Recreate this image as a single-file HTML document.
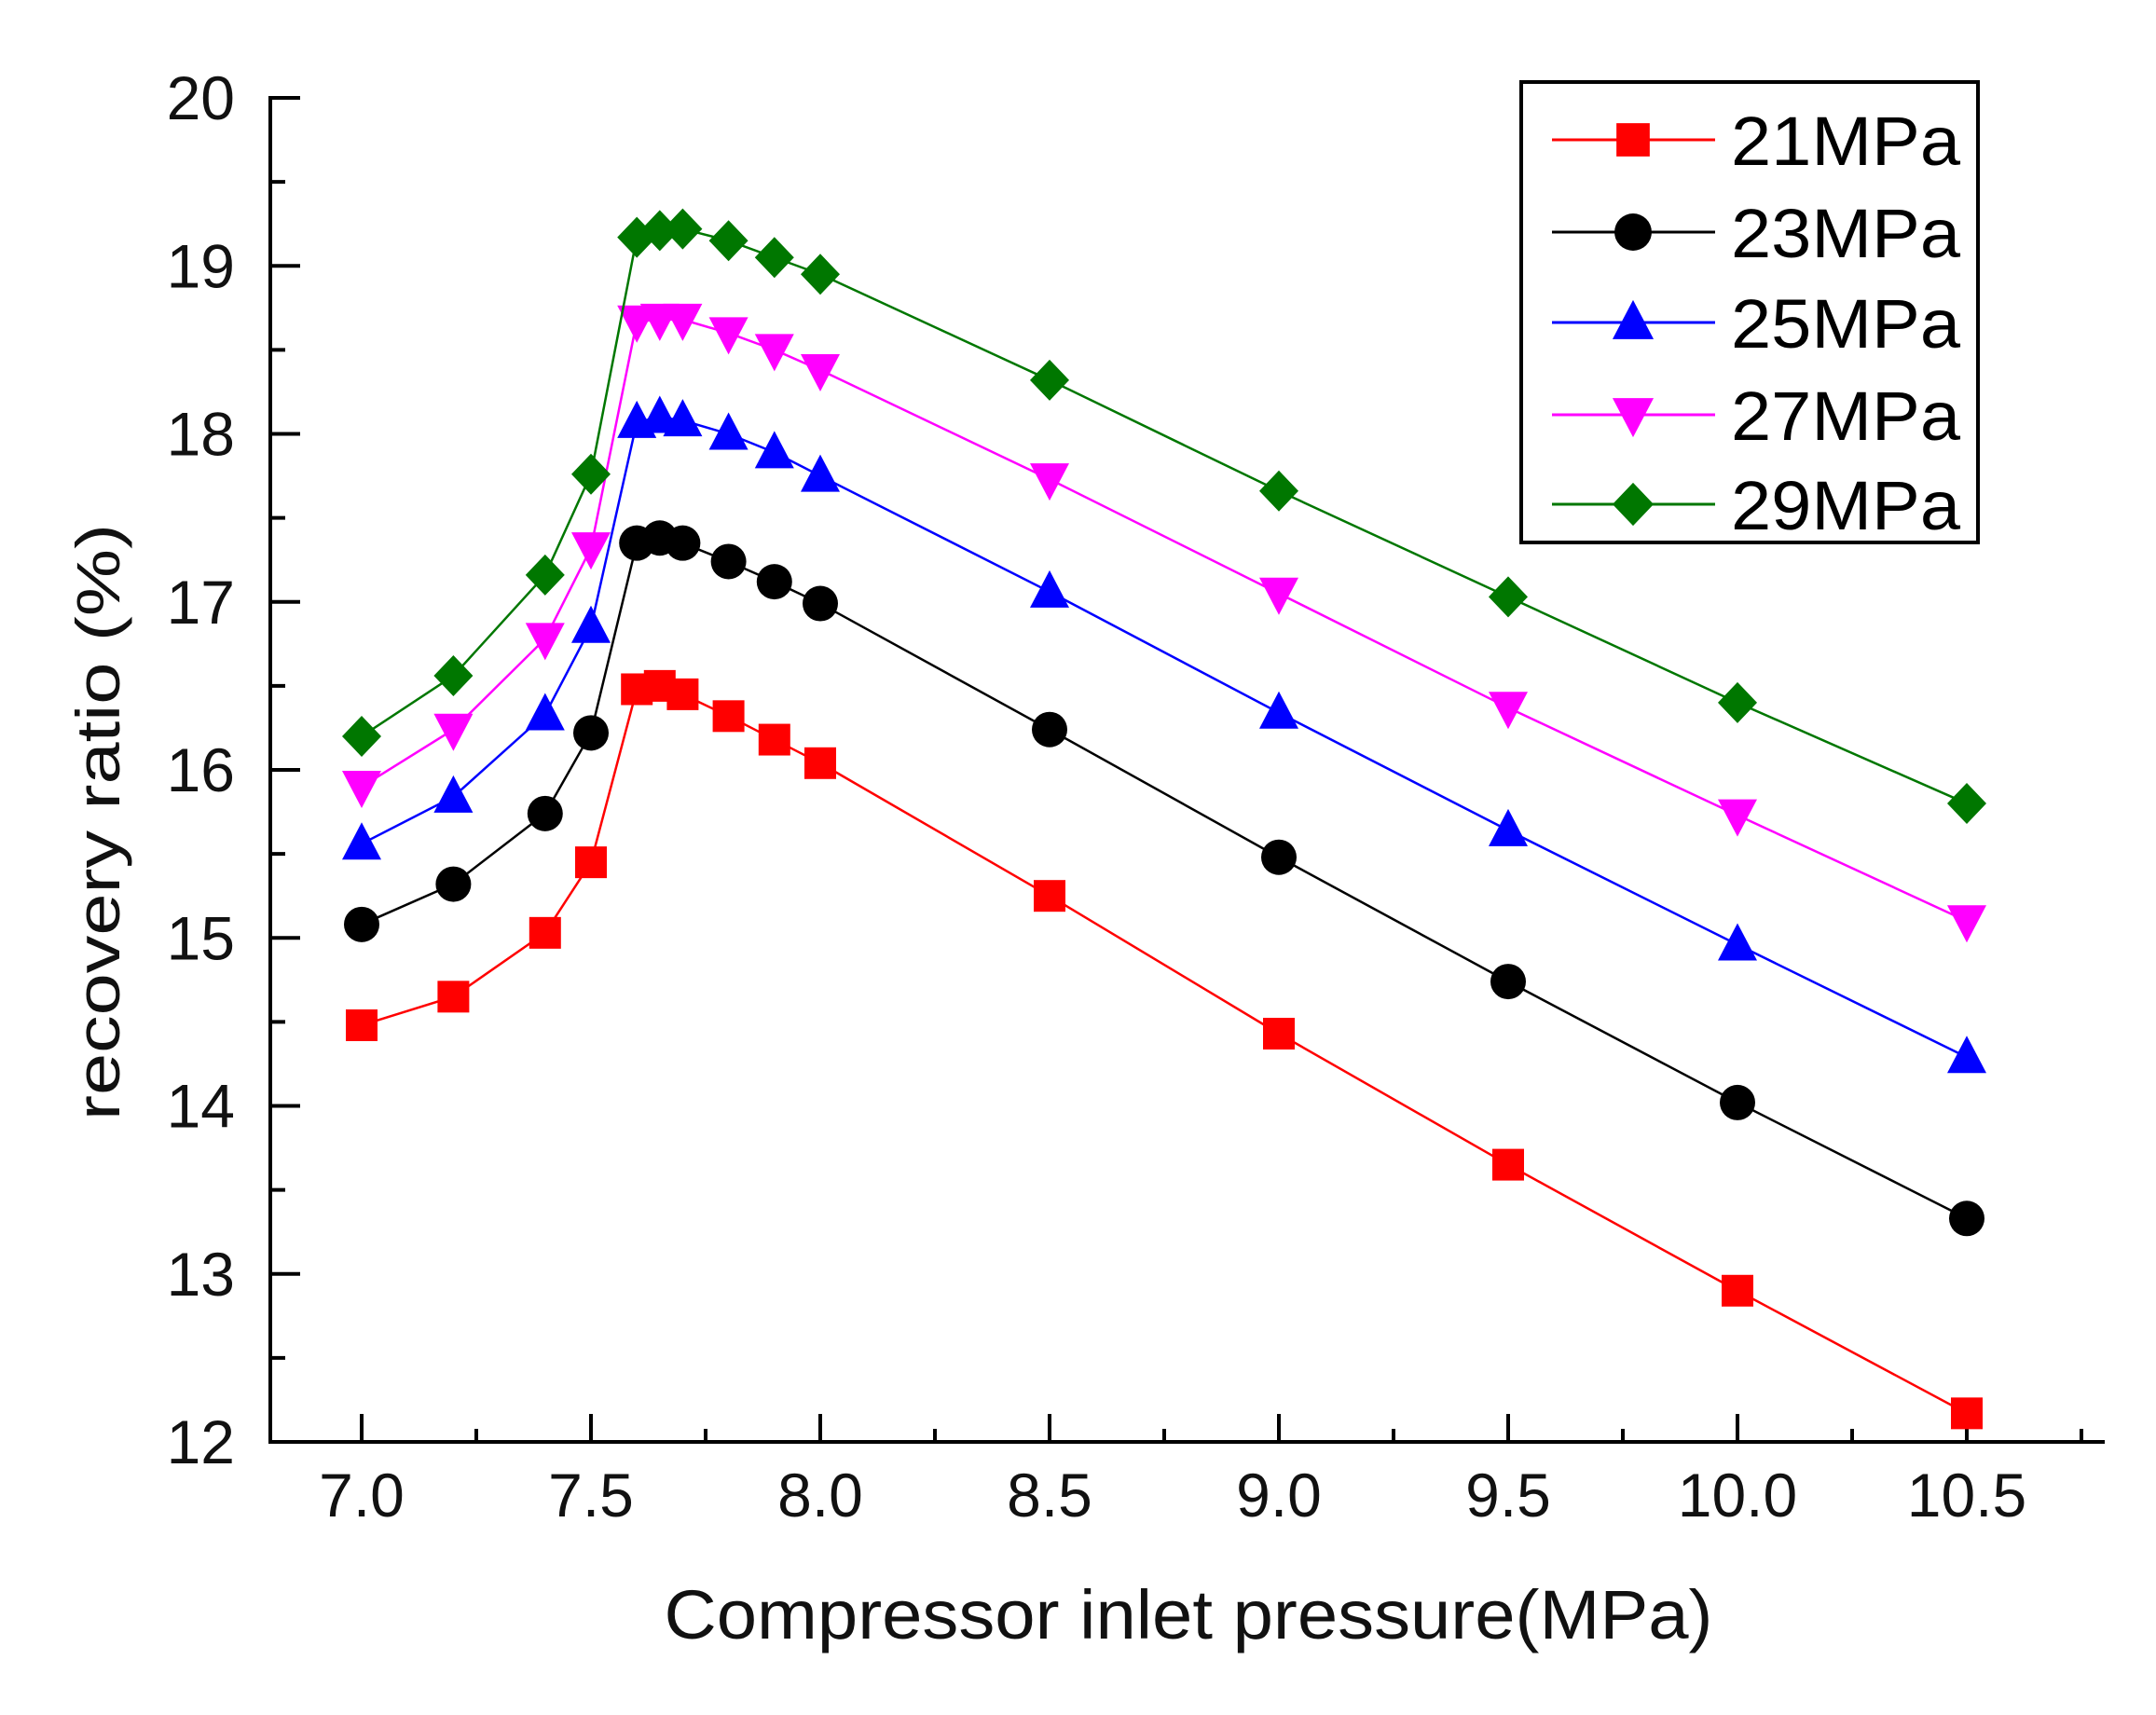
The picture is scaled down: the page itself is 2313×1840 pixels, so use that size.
<!DOCTYPE html>
<html><head><meta charset="utf-8"><style>
html,body{margin:0;padding:0;background:#fff;}
svg{display:block;font-family:"Liberation Sans",Arial,sans-serif;}
</style></head><body>
<svg id="s" width="2313" height="1840" viewBox="0 0 2313 1840" xmlns="http://www.w3.org/2000/svg">
<rect width="2313" height="1840" fill="#fff"/>
<g id="ax" stroke="#000" stroke-width="4" fill="none">
<line x1="290" y1="103" x2="290" y2="1549"/>
<line x1="288" y1="1547" x2="2258" y2="1547"/>
</g>
<g id="ticks" stroke="#000" stroke-width="4"></g>
<g id="lbl" font-size="66" fill="#111"></g>
<text x="1275" y="1758" font-size="74" text-anchor="middle" textLength="1125" lengthAdjust="spacingAndGlyphs" fill="#111">Compressor inlet pressure(MPa)</text>
<text transform="translate(128,882) rotate(-90)" font-size="66" text-anchor="middle" textLength="640" lengthAdjust="spacingAndGlyphs" fill="#111">recovery ratio  (%)</text>
<g id="data"></g>
<rect x="1632" y="88" width="490" height="494" fill="#fff" stroke="#000" stroke-width="4"/>
<g id="leg"></g>
</svg>
<script>
const NS="http://www.w3.org/2000/svg";
function el(p,t,a,txt){const e=document.createElementNS(NS,t);for(const k in a)e.setAttribute(k,a[k]);if(txt!==undefined)e.textContent=txt;p.appendChild(e);return e;}
const X=v=>388+(v-7)*492, Y=v=>105+(20-v)*180.25;
const tk=document.getElementById('ticks'), lb=document.getElementById('lbl');
for(let v=12;v<=20.001;v+=0.5){const y=Y(v);const maj=Math.abs(v-Math.round(v))<1e-6;
 el(tk,'line',{x1:290,y1:y,x2:maj?322:306,y2:y});
 if(maj) el(lb,'text',{x:252,y:y+23,'text-anchor':'end'},String(v));}
for(let v=6.75;v<=10.76;v+=0.25){const x=X(v);if(x<291)continue;const maj=Math.abs(v*2-Math.round(v*2))<1e-6;
 el(tk,'line',{x1:x,y1:1547,x2:x,y2:maj?1517:1533});
 if(maj) el(lb,'text',{x:x,y:1627,'text-anchor':'middle'},v.toFixed(1));}
const xs=[7.0,7.2,7.4,7.5,7.6,7.65,7.7,7.8,7.9,8.0,8.5,9.0,9.5,10.0,10.5];
const S=[
 ['#ff0000','sq','21MPa',[14.48,14.65,15.03,15.45,16.48,16.5,16.45,16.32,16.18,16.04,15.25,14.43,13.65,12.9,12.17]],
 ['#000000','ci','23MPa',[15.08,15.32,15.74,16.22,17.35,17.38,17.35,17.24,17.12,16.99,16.24,15.48,14.74,14.02,13.33]],
 ['#0000ff','tu','25MPa',[15.56,15.84,16.33,16.85,18.07,18.1,18.08,18.0,17.89,17.75,17.06,16.34,15.64,14.96,14.29]],
 ['#ff00ff','td','27MPa',[15.9,16.24,16.78,17.32,18.67,18.68,18.68,18.6,18.5,18.38,17.73,17.05,16.37,15.73,15.1]],
 ['#007700','di','29MPa',[16.2,16.56,17.16,17.76,19.17,19.21,19.22,19.15,19.05,18.95,18.32,17.66,17.03,16.4,15.8]]];
function mk(g,t,x,y,c,k){k=k||1;
 if(t=='sq') el(g,'rect',{x:x-17*k,y:y-17*k,width:34*k,height:34*k,fill:c});
 else if(t=='ci') el(g,'circle',{cx:x,cy:y,r:19*k,fill:c});
 else if(t=='tu') el(g,'polygon',{points:`${x},${y-23*k} ${x+21*k},${y+17*k} ${x-21*k},${y+17*k}`,fill:c});
 else if(t=='td') el(g,'polygon',{points:`${x},${y+23*k} ${x+21*k},${y-17*k} ${x-21*k},${y-17*k}`,fill:c});
 else el(g,'polygon',{points:`${x},${y-22*k} ${x+21*k},${y} ${x},${y+22*k} ${x-21*k},${y}`,fill:c});}
const d=document.getElementById('data'), lg=document.getElementById('leg');
S.forEach((s,i)=>{
 el(d,'polyline',{points:xs.map((x,j)=>X(x)+','+Y(s[3][j])).join(' '),fill:'none',stroke:s[0],'stroke-width':2.5});
 xs.forEach((x,j)=>mk(d,s[1],X(x),Y(s[3][j]),s[0]));
});
const lyy=[150,249,346,445,541];
S.forEach((s,i)=>{
 el(lg,'line',{x1:1665,y1:lyy[i],x2:1840,y2:lyy[i],stroke:s[0],'stroke-width':3});
 mk(lg,s[1],1752,lyy[i],s[0],1.05);
 el(lg,'text',{x:1857,y:lyy[i]+27,'font-size':74,fill:'#000',textLength:246,lengthAdjust:'spacingAndGlyphs'},s[2]);
});
</script>
</body></html>
